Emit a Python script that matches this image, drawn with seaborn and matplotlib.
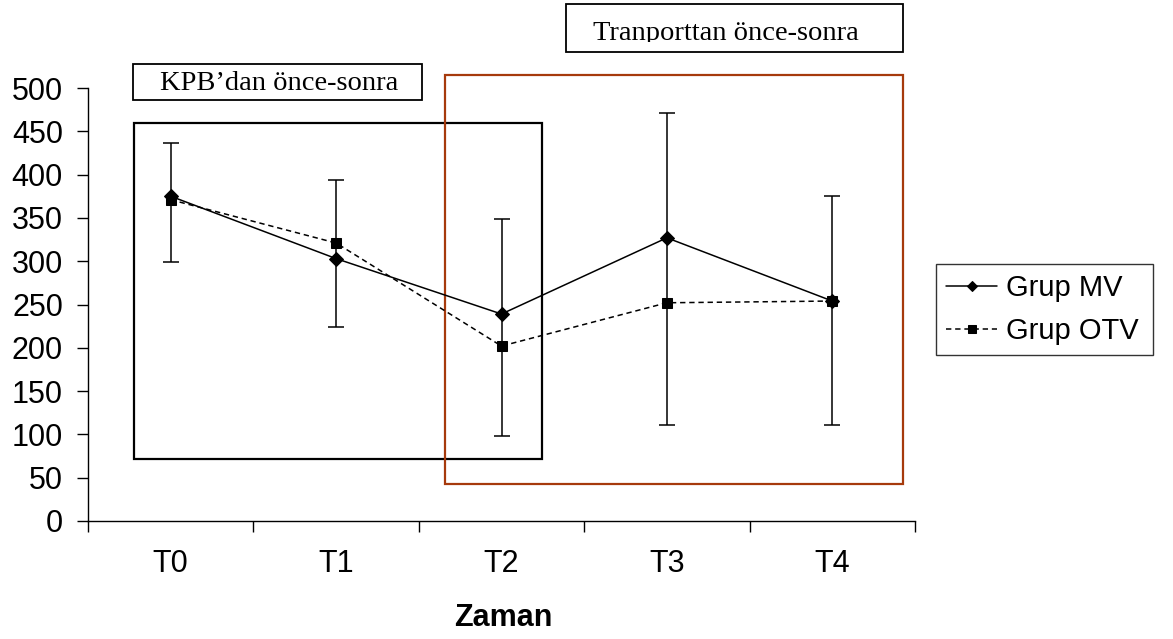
import matplotlib
matplotlib.use("Agg")
import matplotlib.pyplot as plt
from matplotlib.patches import Rectangle
import seaborn as sns
import pandas as pd
import numpy as np

# ---- data ----
categories = ["T0", "T1", "T2", "T3", "T4"]
grup_mv = [375, 303, 239, 327, 254]
grup_otv = [371, 321, 202, 252, 254]
err_low = [299, 224, 98, 111, 111]
err_high = [436, 394, 349, 471, 375]
series_names = ["Grup MV", "Grup OTV"]
y_ticks = [0, 50, 100, 150, 200, 250, 300, 350, 400, 450, 500]

sns.set_theme(style="white")
plt.rcParams["font.family"] = ["Liberation Sans", "DejaVu Sans"]
plt.rcParams["text.color"] = "black"
plt.rcParams["xtick.color"] = "black"
plt.rcParams["ytick.color"] = "black"
plt.rcParams["axes.labelcolor"] = "black"

W, H = 1173, 639
fig = plt.figure(figsize=(W / 100, H / 100), dpi=100)
ax = fig.add_axes([88 / W, (H - 521) / H, 827 / W, 433 / H])

x_pos = np.arange(len(categories))
df = pd.DataFrame({
    "x": np.concatenate([x_pos, x_pos]),
    "value": grup_mv + grup_otv,
    "group": [series_names[0]] * len(categories) + [series_names[1]] * len(categories),
})

# error bars (single range per time point)
low = np.array(err_low, dtype=float)
high = np.array(err_high, dtype=float)
mid = (low + high) / 2
ax.errorbar(x_pos, mid, yerr=[mid - low, high - mid], fmt="none",
            ecolor="black", elinewidth=1.1, capsize=6, capthick=1.1, zorder=2)

sns.lineplot(data=df, x="x", y="value", hue="group", style="group",
             palette=["black", "black"],
             markers={series_names[0]: "D", series_names[1]: "s"},
             dashes={series_names[0]: "", series_names[1]: (3.5, 2.5)},
             markersize=7, linewidth=1.1, markeredgecolor="black",
             ax=ax, zorder=3, legend=True)

# axes styling
ax.set_xlim(-0.5, 4.5)
ax.set_ylim(0, 500)
ax.set_yticks(y_ticks)
ax.set_xticks(np.arange(-0.5, 5, 1.0))
ax.set_xticklabels([])
ax.set_xticks(x_pos, minor=True)
ax.set_xticklabels(categories, minor=True)
ax.tick_params(axis="x", which="minor", length=0, pad=20, labelsize=22, bottom=True)
ax.tick_params(axis="x", which="major", length=8, width=1, color="black",
               direction="out", bottom=True)
ax.tick_params(axis="y", length=8, width=1, color="black", direction="out",
               pad=10, labelsize=22, left=True)
ax.set_xlabel("Zaman", fontsize=22, fontweight="bold")
ax.xaxis.set_label_coords((503 - 88) / 827, -(618 - 521) / 433)
ax.xaxis.label.set_verticalalignment("center")
ax.set_ylabel("")
for s in ["top", "right"]:
    ax.spines[s].set_visible(False)
for s in ["left", "bottom"]:
    ax.spines[s].set_color("black")
    ax.spines[s].set_linewidth(1)
ax.grid(False)

# region boxes
ax.add_patch(Rectangle((-0.224, 71.6), 2.245 + 0.224, 460 - 71.6, fill=False,
                       edgecolor="black", linewidth=1.6, clip_on=False, zorder=1))
ax.add_patch(Rectangle((1.661, 42.7), 4.427 - 1.661, 515 - 42.7, fill=False,
                       edgecolor="#A63A0C", linewidth=1.6, clip_on=False, zorder=1))

# text boxes (figure pixel coords, origin top-left)
def fx(px):
    return px / W

def fy(py):
    return 1 - py / H

fig.patches.append(Rectangle((fx(133), fy(100)), fx(422) - fx(133), fy(64) - fy(100),
                             fill=False, edgecolor="black", linewidth=1.3,
                             transform=fig.transFigure, figure=fig))
fig.text(fx(279), fy(90), "KPB\u2019dan önce-sonra", ha="center", va="baseline",
         fontsize=20.5, family=["Liberation Serif", "DejaVu Serif"], color="black")

fig.patches.append(Rectangle((fx(566), fy(52)), fx(903) - fx(566), fy(4) - fy(52),
                             fill=False, edgecolor="black", linewidth=1.3,
                             transform=fig.transFigure, figure=fig))
t2 = fig.text(fx(726), fy(40), "Tranporttan önce-sonra", ha="center", va="baseline",
              fontsize=20.5, family=["Liberation Serif", "DejaVu Serif"], color="black")
clip_rect = Rectangle((fx(566), fy(42)), fx(903) - fx(566), fy(5) - fy(42),
                      transform=fig.transFigure)
t2.set_clip_path(clip_rect)

# legend
handles, labels = ax.get_legend_handles_labels()
leg = ax.legend(handles, labels, loc="center left",
                bbox_to_anchor=(fx(936), fy(364), fx(1153) - fx(936), fy(255) - fy(364)),
                bbox_transform=fig.transFigure, mode="expand",
                fontsize=21, frameon=True, fancybox=False, borderaxespad=0,
                handlelength=1.75, handletextpad=0.3, labelspacing=0.5,
                borderpad=0.35)
leg.get_frame().set_edgecolor("black")
leg.get_frame().set_linewidth(1)
for h in leg.get_lines():
    h.set_markersize(5.5)

fig.savefig("out.png", dpi=100, facecolor="white")
